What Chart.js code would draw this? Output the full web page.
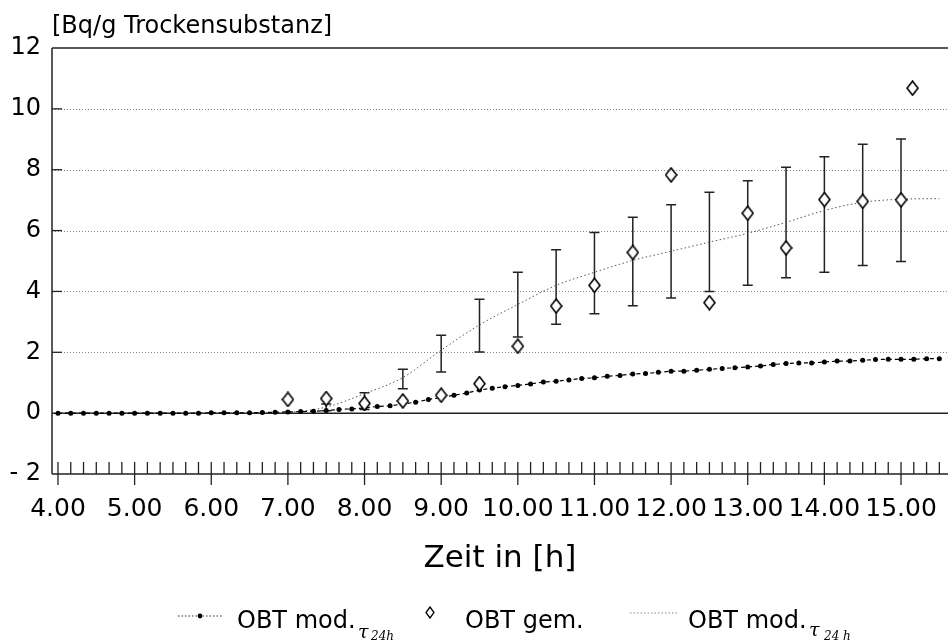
<!DOCTYPE html>
<html lang="de">
<head>
<meta charset="UTF-8">
<title>OBT in Trockensubstanz</title>
<script src="https://cdn.jsdelivr.net/npm/chart.js@4.4.1/dist/chart.umd.min.js"></script>
<style>
  html, body { margin: 0; padding: 0; background: #fff; }
  #wrap { width: 948px; height: 641px; }
</style>
</head>
<body>
<div id="wrap"><canvas id="chart" width="948" height="641"></canvas></div>
<script>
// axis ticks
const xTickValues = [4, 5, 6, 7, 8, 9, 10, 11, 12, 13, 14, 15];
const xTickLabels = ['4.00', '5.00', '6.00', '7.00', '8.00', '9.00', '10.00', '11.00', '12.00', '13.00', '14.00', '15.00'];
const yTickValues = [-2, 0, 2, 4, 6, 8, 10, 12];
const yTickLabels = ['- 2', '0', '2', '4', '6', '8', '10', '12'];

// OBT mod. (lower curve, dots every 10 min)
const modLowTimes = [
  '4:00', '4:10', '4:20', '4:30', '4:40', '4:50',
  '5:00', '5:10', '5:20', '5:30', '5:40', '5:50',
  '6:00', '6:10', '6:20', '6:30', '6:40', '6:50',
  '7:00', '7:10', '7:20', '7:30', '7:40', '7:50',
  '8:00', '8:10', '8:20', '8:30', '8:40', '8:50',
  '9:00', '9:10', '9:20', '9:30', '9:40', '9:50',
  '10:00', '10:10', '10:20', '10:30', '10:40', '10:50',
  '11:00', '11:10', '11:20', '11:30', '11:40', '11:50',
  '12:00', '12:10', '12:20', '12:30', '12:40', '12:50',
  '13:00', '13:10', '13:20', '13:30', '13:40', '13:50',
  '14:00', '14:10', '14:20', '14:30', '14:40', '14:50',
  '15:00', '15:10', '15:20', '15:30'
];
const modLowValues = [
  0, 0, 0, 0, 0, 0,
  0, 0, 0, 0, 0, 0,
  0.01, 0.01, 0.01, 0.01, 0.02, 0.03,
  0.04, 0.05, 0.06, 0.09, 0.12, 0.14,
  0.17, 0.22, 0.24, 0.30, 0.36, 0.45,
  0.51, 0.59, 0.66, 0.76, 0.82, 0.87,
  0.91, 0.96, 1.02, 1.05, 1.09, 1.14,
  1.16, 1.21, 1.24, 1.29, 1.30, 1.34,
  1.38, 1.38, 1.41, 1.44, 1.47, 1.49,
  1.52, 1.55, 1.60, 1.63, 1.65, 1.65,
  1.68, 1.71, 1.71, 1.74, 1.76, 1.77,
  1.77, 1.77, 1.79, 1.79
];

// OBT mod. (upper curve, thin dotted)
const modHighTimes = ['4:00', '4:30', '5:00', '5:30', '6:00', '6:30', '7:00', '7:30', '8:00', '8:30', '9:00', '9:30',
  '10:00', '10:30', '11:00', '11:30', '12:00', '12:30', '13:00', '13:30', '14:00', '14:30', '15:00', '15:30'];
const modHighValues = [0, 0, 0, 0, 0, 0.01, 0.03, 0.2, 0.64, 1.17, 2.07, 2.9,
  3.57, 4.2, 4.63, 5.02, 5.32, 5.62, 5.91, 6.27, 6.66, 6.93, 7.03, 7.05];

// OBT gem. (measured, with error bars)
const gemTimes = ['7:00', '7:30', '8:00', '8:30', '9:00', '9:30', '10:00', '10:30', '11:00', '11:30',
  '12:00', '12:30', '13:00', '13:30', '14:00', '14:30', '15:00', '15:09'];
const gemValues = [0.45, 0.48, 0.32, 0.40, 0.59, 0.97, 2.2, 3.52, 4.2, 5.28,
  7.83, 3.63, 6.57, 5.43, 7.02, 6.96, 7.01, 10.68];
const gemLow = [null, 0.08, 0.12, 0.8, 1.35, 2.01, 2.5, 2.92, 3.27, 3.53,
  3.78, 4.0, 4.2, 4.45, 4.63, 4.85, 4.98, null];
const gemHigh = [null, 0.3, 0.67, 1.44, 2.56, 3.74, 4.63, 5.37, 5.94, 6.44,
  6.85, 7.26, 7.64, 8.08, 8.43, 8.84, 9.01, null];

const FONT = "'DejaVu Sans', sans-serif";
const INK = '#000';

function toHours(t) {
  const p = t.split(':');
  return Number(p[0]) + Number(p[1]) / 60;
}

function makeDiamond(w, h, lw) {
  const c = document.createElement('canvas');
  c.width = w + 2;
  c.height = h + 2;
  const g = c.getContext('2d');
  g.beginPath();
  g.moveTo(c.width / 2, 1);
  g.lineTo(c.width - 1, c.height / 2);
  g.lineTo(c.width / 2, c.height - 1);
  g.lineTo(1, c.height / 2);
  g.closePath();
  g.fillStyle = '#fff';
  g.fill();
  g.lineWidth = lw;
  g.strokeStyle = '#000';
  g.stroke();
  return c;
}
const diamond = makeDiamond(11, 14, 1.6);

// axes, grid and tick marks drawn like the plotter did
const framePlugin = {
  id: 'frame',
  beforeDatasetsDraw(chart) {
    const ctx = chart.ctx;
    const x = chart.scales.x, y = chart.scales.y;
    const a = chart.chartArea;
    const right = chart.width; // frame runs off the right edge of the page
    ctx.save();
    // dotted grid
    ctx.strokeStyle = '#8a8a8a';
    ctx.lineWidth = 1;
    ctx.setLineDash([1, 2]);
    [2, 4, 6, 8, 10].forEach(v => {
      const py = Math.round(y.getPixelForValue(v)) + 0.5;
      ctx.beginPath();
      ctx.moveTo(a.left, py);
      ctx.lineTo(right, py);
      ctx.stroke();
    });
    ctx.setLineDash([]);
    ctx.strokeStyle = '#222';
    // zero line, top border, bottom and left axis
    ctx.lineWidth = 1.5;
    [0, 12, -2].forEach(v => {
      const py = y.getPixelForValue(v);
      ctx.beginPath();
      ctx.moveTo(a.left, py);
      ctx.lineTo(right, py);
      ctx.stroke();
    });
    ctx.beginPath();
    ctx.moveTo(a.left, a.top);
    ctx.lineTo(a.left, a.bottom);
    ctx.stroke();
    // y tick marks inside
    ctx.lineWidth = 1.3;
    [2, 4, 6, 8, 10].forEach(v => {
      const py = y.getPixelForValue(v);
      ctx.beginPath();
      ctx.moveTo(a.left, py);
      ctx.lineTo(a.left + 10, py);
      ctx.stroke();
    });
    // x ticks, every 10 minutes, hours cross the axis
    const base = y.getPixelForValue(-2);
    for (let m = 0; m <= 70; m++) {
      const px = x.getPixelForValue(4 + m / 6);
      if (px > right) break;
      ctx.beginPath();
      ctx.moveTo(px, base - 12);
      ctx.lineTo(px, m % 6 === 0 ? base + 11 : base);
      ctx.stroke();
    }
    // error bars of OBT gem.
    ctx.lineWidth = 1.5;
    gemTimes.forEach((t, i) => {
      if (gemLow[i] === null) return;
      const px = x.getPixelForValue(toHours(t));
      const lo = y.getPixelForValue(gemLow[i]);
      const hi = y.getPixelForValue(gemHigh[i]);
      ctx.beginPath();
      ctx.moveTo(px, lo);
      ctx.lineTo(px, hi);
      ctx.moveTo(px - 5, lo);
      ctx.lineTo(px + 5, lo);
      ctx.moveTo(px - 5, hi);
      ctx.lineTo(px + 5, hi);
      ctx.stroke();
    });
    ctx.restore();
  },
  afterDraw(chart) {
    const ctx = chart.ctx;
    ctx.save();
    ctx.fillStyle = INK;
    ctx.textBaseline = 'alphabetic';
    ctx.textAlign = 'left';
    // unit label top left
    ctx.font = '24px ' + FONT;
    ctx.fillText('[Bq/g Trockensubstanz]', 52, 33);

    // legend
    const ly = 628;
    ctx.strokeStyle = '#333';
    ctx.lineWidth = 1;
    ctx.setLineDash([1.5, 2]);
    ctx.beginPath();
    ctx.moveTo(178, 616);
    ctx.lineTo(223, 616);
    ctx.stroke();
    ctx.setLineDash([]);
    ctx.fillStyle = '#000';
    ctx.beginPath();
    ctx.arc(200, 616, 2.4, 0, Math.PI * 2);
    ctx.fill();

    ctx.fillStyle = INK;
    ctx.font = '24px ' + FONT;
    ctx.fillText('OBT mod.', 237, ly);
    ctx.font = 'italic 19px "DejaVu Serif", serif';
    ctx.fillText('τ', 358, 638);
    ctx.font = 'italic 12px "DejaVu Serif", serif';
    ctx.fillText('24h', 371, 640);

    ctx.drawImage(makeDiamond(8, 11, 1.3), 425, 606);
    ctx.font = '24px ' + FONT;
    ctx.fillText('OBT gem.', 465, ly);

    ctx.strokeStyle = '#888';
    ctx.setLineDash([1.5, 2]);
    ctx.beginPath();
    ctx.moveTo(630, 613);
    ctx.lineTo(677, 613);
    ctx.stroke();
    ctx.setLineDash([]);
    ctx.fillText('OBT mod.', 688, ly);
    ctx.font = 'italic 19px "DejaVu Serif", serif';
    ctx.fillText('τ', 809, 636);
    ctx.font = 'italic 12px "DejaVu Serif", serif';
    ctx.fillText('24 h', 824, 640);
    ctx.restore();
  }
};

const chart = new Chart(document.getElementById('chart'), {
  type: 'scatter',
  data: {
    datasets: [
      {
        label: 'OBT mod.',
        data: modLowTimes.map((t, i) => ({ x: toHours(t), y: modLowValues[i] })),
        showLine: true,
        borderColor: '#000',
        borderWidth: 1.2,
        borderDash: [4, 3],
        pointRadius: 2.5,
        pointBackgroundColor: '#000',
        pointBorderWidth: 0,
        order: 1
      },
      {
        label: 'OBT gem.',
        data: gemTimes.map((t, i) => ({ x: toHours(t), y: gemValues[i] })),
        showLine: false,
        pointStyle: diamond,
        order: 0
      },
      {
        label: 'OBT mod.',
        data: modHighTimes.map((t, i) => ({ x: toHours(t), y: modHighValues[i] })),
        showLine: true,
        borderColor: '#555',
        borderWidth: 1,
        borderDash: [1.5, 2.5],
        pointRadius: 0,
        cubicInterpolationMode: 'monotone',
        order: 2
      }
    ]
  },
  options: {
    responsive: false,
    animation: false,
    layout: { autoPadding: false, padding: { top: 48, right: 0, bottom: 61, left: 0 } },
    plugins: { legend: { display: false }, tooltip: { enabled: false } },
    scales: {
      x: {
        type: 'linear',
        min: 3.922,
        max: 15.613,
        afterBuildTicks: s => { s.ticks = xTickValues.map(v => ({ value: v })); },
        afterFit: s => { s.height = 106; s.paddingLeft = 0; s.paddingRight = 0; },
        grid: { display: false, drawTicks: false },
        border: { display: false },
        ticks: {
          autoSkip: false,
          maxRotation: 0,
          padding: 20,
          color: INK,
          font: { family: FONT, size: 25 },
          callback: v => { const i = xTickValues.indexOf(v); return i < 0 ? '' : xTickLabels[i]; }
        },
        title: {
          display: true,
          text: 'Zeit in [h]',
          color: INK,
          font: { family: FONT, size: 31 },
          padding: { top: 0, bottom: 2 }
        }
      },
      y: {
        min: -2,
        max: 12,
        afterBuildTicks: s => { s.ticks = yTickValues.map(v => ({ value: v })); },
        afterFit: s => { s.width = 52; },
        grid: { display: false, drawTicks: false },
        border: { display: false },
        ticks: {
          padding: 11,
          color: INK,
          font: { family: FONT, size: 24 },
          callback: v => { const i = yTickValues.indexOf(v); return i < 0 ? '' : yTickLabels[i]; }
        }
      }
    }
  },
  plugins: [framePlugin]
});
</script>
</body>
</html>
